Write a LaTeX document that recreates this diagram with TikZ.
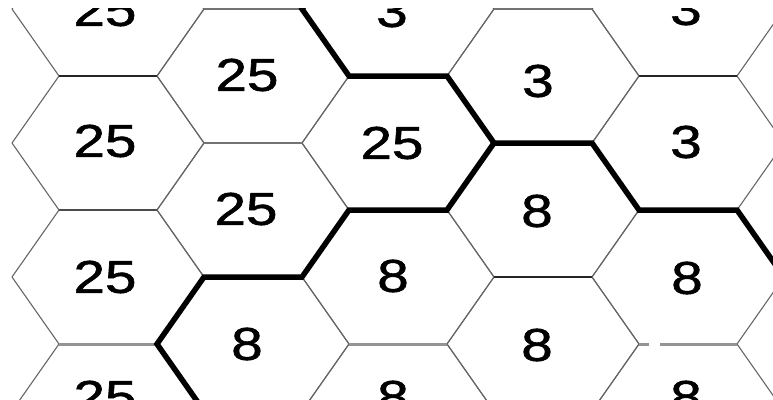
\documentclass[tikz,border=0pt]{standalone}
\usepackage{graphicx}
\usepackage{fontspec}
\setmainfont{Liberation Sans}
\newfontfamily\numfont[FakeBold=1.2]{Liberation Sans}
\newcommand\hstretch[1]{\scalebox{1.23}[1]{#1}}
\begin{document}
\begin{tikzpicture}[x=1pt,y=-1pt,
  diag/.style={draw=black!60,line width=1.1pt},
  hdark/.style={draw=black!85,line width=1.4pt},
  hmid/.style={draw=black!55,line width=1.6pt},
  hdim/.style={draw=black!70,line width=2pt},
  hlight/.style={draw=black!42,line width=3pt},
  border/.style={draw=black,line width=5.5pt,line join=miter},
  num/.style={inner sep=0pt,font=\numfont\fontsize{46}{46}\selectfont}]
\path[use as bounding box] (0,0) rectangle (773,399);
\begin{scope}
\clip (11,8) rectangle (773,399);
% diagonal edges of all hexagons
\foreach \k in {0,...,4}{
  \pgfmathsetmacro\cx{108+145*\k}
  \ifodd\k \def\rows{-58,76,210,344,478}\else\def\rows{9,143,277,411}\fi
  \foreach \cy in \rows {
    \draw[diag] (\cx-96,\cy) -- (\cx-49,\cy-67)
                (\cx+49,\cy-67) -- (\cx+96,\cy) -- (\cx+49,\cy+67)
                (\cx-49,\cy+67) -- (\cx-96,\cy);
  }
}
% horizontal edges
\draw[hdark] (59,76) -- (157,76);
\draw[hdark] (639,76) -- (737,76);
\draw[hdim] (59,210) -- (157,210);
\draw[hlight] (59,344) -- (157,344);
\draw[hlight] (349,344) -- (447,344);
\draw[hlight] (639,344) -- (649,344) (660,344) -- (737,344);
\draw[hmid] (204,9) -- (302,9);
\draw[hmid] (494,9) -- (592,9);
\draw[hmid] (204,143) -- (302,143);
\draw[hdark] (494,277) -- (592,277);
% region borders
\draw[border] (349,-58) -- (302,9) -- (349,76) -- (447,76) -- (494,143)
  -- (592,143) -- (639,210) -- (737,210) -- (784,277);
\draw[border] (494,143) -- (447,210) -- (349,210) -- (302,277) -- (204,277)
  -- (157,344) -- (204,411);
% numbers
\node[num] (a0) at (105,10) {\hstretch{25}};
\node[num] (a1) at (105,141) {\hstretch{25}};
\node[num] (a2) at (105,277) {\hstretch{25}};
\node[num] (a3) at (105,397) {\hstretch{25}};
\node[num] (b0) at (247,75) {\hstretch{25}};
\node[num] (b1) at (246,209) {\hstretch{25}};
\node[num] (b2) at (247,344) {\hstretch{8}};
\node[num] (c0) at (392,11) {\hstretch{3}};
\node[num] (c1) at (392,143) {\hstretch{25}};
\node[num] (c2) at (393,276) {\hstretch{8}};
\node[num] (c3) at (393,397) {\hstretch{8}};
\node[num] (d0) at (538,81) {\hstretch{3}};
\node[num] (d1) at (537,211) {\hstretch{8}};
\node[num] (d2) at (537,345) {\hstretch{8}};
\node[num] (e0) at (686,9) {\hstretch{3}};
\node[num] (e1) at (686,142) {\hstretch{3}};
\node[num] (e2) at (687,278) {\hstretch{8}};
\node[num] (e3) at (686,397) {\hstretch{8}};
\end{scope}
\end{tikzpicture}
\end{document}
